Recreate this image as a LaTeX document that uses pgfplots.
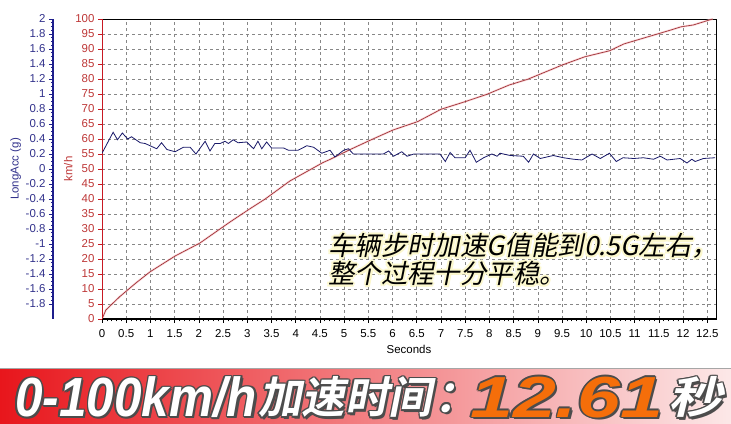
\documentclass[border=0pt]{standalone}
\usepackage{pgfplots}
\pgfplotsset{compat=1.18}
\usepackage{pgfplotstable}
\usepackage{graphicx}
\usepackage{fontspec}
\setmainfont{Liberation Sans}
\newfontfamily\cjk[FakeSlant=0.2]{Noto Sans CJK SC}
\newfontfamily\cjkb[FakeSlant=0.2]{Noto Sans CJK SC Bold}

\definecolor{spdline}{RGB}{150,40,45}
\definecolor{spdglow}{RGB}{245,175,180}
\definecolor{spdax}{RGB}{200,25,35}
\definecolor{spdlbl}{RGB}{190,55,55}
\definecolor{accline}{RGB}{25,25,105}
\definecolor{accax}{RGB}{30,30,140}
\definecolor{acclbl}{RGB}{50,50,140}
\definecolor{grd}{RGB}{135,135,135}
\definecolor{bannerred}{RGB}{232,22,28}
\definecolor{bannermid}{RGB}{240,120,124}
\definecolor{bannerend}{RGB}{252,232,232}
\definecolor{numorange}{RGB}{245,110,10}
\definecolor{glow}{RGB}{252,248,205}

% speed, km/h
\pgfplotstableread{
t v
0 0
0.08 3
0.37 7.5
0.7 12
0.99 15.7
1.51 21
2.02 25.3
2.64 32.3
3.06 36.8
3.37 40
3.88 46
4.09 47.9
4.57 52.2
4.71 53.2
5.1 56.3
5.54 59.6
6.01 63.0
6.52 65.8
7.0 69.9
7.49 72.4
7.95 74.9
8.41 78
8.79 79.9
9.0 81.3
9.51 84.7
9.97 87.4
10.48 89.4
10.78 91.7
11.24 93.9
11.7 96.1
11.96 97.4
12.21 98
12.61 100
}\speed

% longitudinal acceleration, g
\pgfplotstableread{
t a
0 0.21
0.23 0.49
0.32 0.39
0.42 0.48
0.53 0.40
0.61 0.43
0.79 0.35
0.89 0.34
1.13 0.27
1.23 0.35
1.34 0.26
1.51 0.23
1.68 0.29
1.82 0.29
1.94 0.20
2.13 0.37
2.23 0.24
2.33 0.34
2.44 0.34
2.54 0.37
2.61 0.34
2.71 0.39
2.81 0.35
2.99 0.36
3.13 0.27
3.22 0.37
3.30 0.27
3.40 0.36
3.50 0.28
3.75 0.28
3.85 0.25
4.05 0.25
4.23 0.31
4.37 0.29
4.54 0.21
4.71 0.25
4.81 0.16
4.99 0.25
5.09 0.27
5.19 0.20
5.53 0.20
5.81 0.20
5.92 0.24
6.02 0.17
6.19 0.23
6.30 0.17
6.44 0.20
6.98 0.20
7.09 0.10
7.19 0.22
7.29 0.15
7.50 0.15
7.60 0.25
7.73 0.09
7.88 0.15
8.05 0.20
8.16 0.17
8.22 0.21
8.43 0.18
8.70 0.17
8.81 0.09
8.91 0.20
9.05 0.14
9.32 0.18
9.53 0.15
9.74 0.13
9.91 0.12
10.12 0.20
10.29 0.14
10.48 0.21
10.62 0.10
10.76 0.15
10.98 0.14
11.18 0.15
11.39 0.13
11.53 0.17
11.67 0.12
11.94 0.14
12.08 0.08
12.18 0.13
12.25 0.10
12.42 0.14
12.66 0.15
}\acc

\newcommand\tickfont{\fontsize{11.5}{12}\selectfont}

% banner piece: x, width, content, colour
\newcommand\bpiece[4]{%
  \foreach \dx/\dy in {-1.6/0,1.6/0,0/-1.6,0/1.6,-1.2/-1.2,1.2/1.2,-1.2/1.2,1.2/-1.2,2.2/-2.2}{%
    \node[anchor=south west,inner sep=0,text=black!70,xshift=\dx bp,yshift=\dy bp] at (#1bp,6bp) {\resizebox*{#2bp}{41bp}{#3}};}
  \node[anchor=south west,inner sep=0,text=#4] at (#1bp,6bp) {\resizebox*{#2bp}{41bp}{#3}};}

% note line: y, text
\newcommand\note[2]{%
  \foreach \dx/\dy in {-2/0,2/0,0/-2,0/2,-1.5/-1.5,1.5/1.5,-1.5/1.5,1.5/-1.5}{%
    \node[anchor=base west,inner sep=0,text=glow,xshift=\dx bp,yshift=\dy bp] at (328bp,#1bp) {\cjk\fontsize{26.5}{28}\selectfont #2};}
  \node[anchor=base west,inner sep=0,text=black] at (328bp,#1bp) {\cjk\fontsize{26.5}{28}\selectfont #2};}

\begin{document}
\begin{tikzpicture}
\useasboundingbox[fill=white] (0,0) rectangle (731bp,424bp);

% banner at the bottom
\shade[left color=bannerred, middle color=bannermid, right color=bannerend] (0,0) rectangle (731bp,55bp);
\draw[gray!70, line width=1bp] (0,55.5bp) -- (731bp,55.5bp);

% speed axis (main box)
\begin{axis}[
  at={(102bp,105bp)}, anchor=south west,
  scale only axis, width=614bp, height=300bp,
  xmin=0, xmax=12.68, ymin=0, ymax=100,
  xtick={0,0.5,...,12.5}, ytick={0,5,...,100},
  minor x tick num=4,
  xtick pos=bottom, ytick pos=left,
  tick align=outside,
  major tick length=4bp, minor tick length=2.5bp,
  xtick style={black, line width=0.6bp},
  ytick style={spdax, line width=0.8bp},
  grid=major,
  major grid style={grd, line width=0.6bp, dash pattern=on 3bp off 3bp},
  axis line style={black, line width=0.8bp},
  /pgf/number format/assume math mode=true,
  xticklabel style={font=\tickfont, text=black, yshift=-3bp},
  yticklabel style={font=\tickfont, text=spdlbl},
  xlabel={Seconds}, xlabel style={font=\tickfont, yshift=-1bp},
  ylabel={km/h}, ylabel style={font=\tickfont, text=spdlbl, yshift=-4bp},
]
\addplot[spdglow, line width=2bp, opacity=0.6] table[x=t, y=v] {\speed};
\addplot[spdline, line width=0.6bp] table[x=t, y=v] {\speed};
\draw[black, line width=2bp] (rel axis cs:0,0) -- (rel axis cs:1,0);
\draw[spdax, line width=2bp] (rel axis cs:0,0) -- (rel axis cs:0,1);
\end{axis}

% acceleration data, same box
\begin{axis}[
  at={(102bp,105bp)}, anchor=south west,
  scale only axis, width=614bp, height=300bp,
  xmin=0, xmax=12.68, ymin=-2, ymax=2,
  hide axis,
]
\addplot[accline, line width=0.8bp] table[x=t, y=a] {\acc};
\end{axis}

% acceleration scale on the far left
\begin{axis}[
  at={(53bp,105bp)}, anchor=south west,
  scale only axis, width=1bp, height=300bp,
  xmin=0, xmax=1, ymin=-2, ymax=2,
  hide x axis, axis y line*=left,
  ytick={-1.8,-1.6,-1.4,-1.2,-1,-0.8,-0.6,-0.4,-0.2,0,0.2,0.4,0.6,0.8,1,1.2,1.4,1.6,1.8,2},
  minor y tick num=3,
  tick align=outside,
  major tick length=4bp, minor tick length=2bp,
  ytick style={accax, line width=0.7bp},
  axis line style={accax, line width=2bp},
  /pgf/number format/assume math mode=true,
  yticklabel style={font=\tickfont, text=acclbl},
  ylabel={LongAcc (g)}, ylabel style={font=\tickfont, text=acclbl, yshift=-2bp},
]
\end{axis}

% note in the plot
\note{168}{车辆步时加速G值能到0.5G左右，}
\note{140}{整个过程十分平稳。}

% banner text
\bpiece{15}{242}{\bfseries\itshape 0-100km/h}{white}
\bpiece{258}{174}{\cjkb 加速时间}{white}
\foreach \dx/\dy in {-1.6/0,1.6/0,0/-1.6,0/1.6,-1.2/-1.2,1.2/1.2,-1.2/1.2,1.2/-1.2,2.2/-2.2}{%
  \node[anchor=base west,inner sep=0,text=black!70,xshift=\dx bp,yshift=\dy bp] at (434bp,12bp) {\cjkb\fontsize{44}{44}\selectfont ：};}
\node[anchor=base west,inner sep=0,text=white] at (434bp,12bp) {\cjkb\fontsize{44}{44}\selectfont ：};
\bpiece{470}{193}{\bfseries\itshape 12.61}{numorange}
\bpiece{668}{54}{\cjkb 秒}{white}
\end{tikzpicture}
\end{document}
